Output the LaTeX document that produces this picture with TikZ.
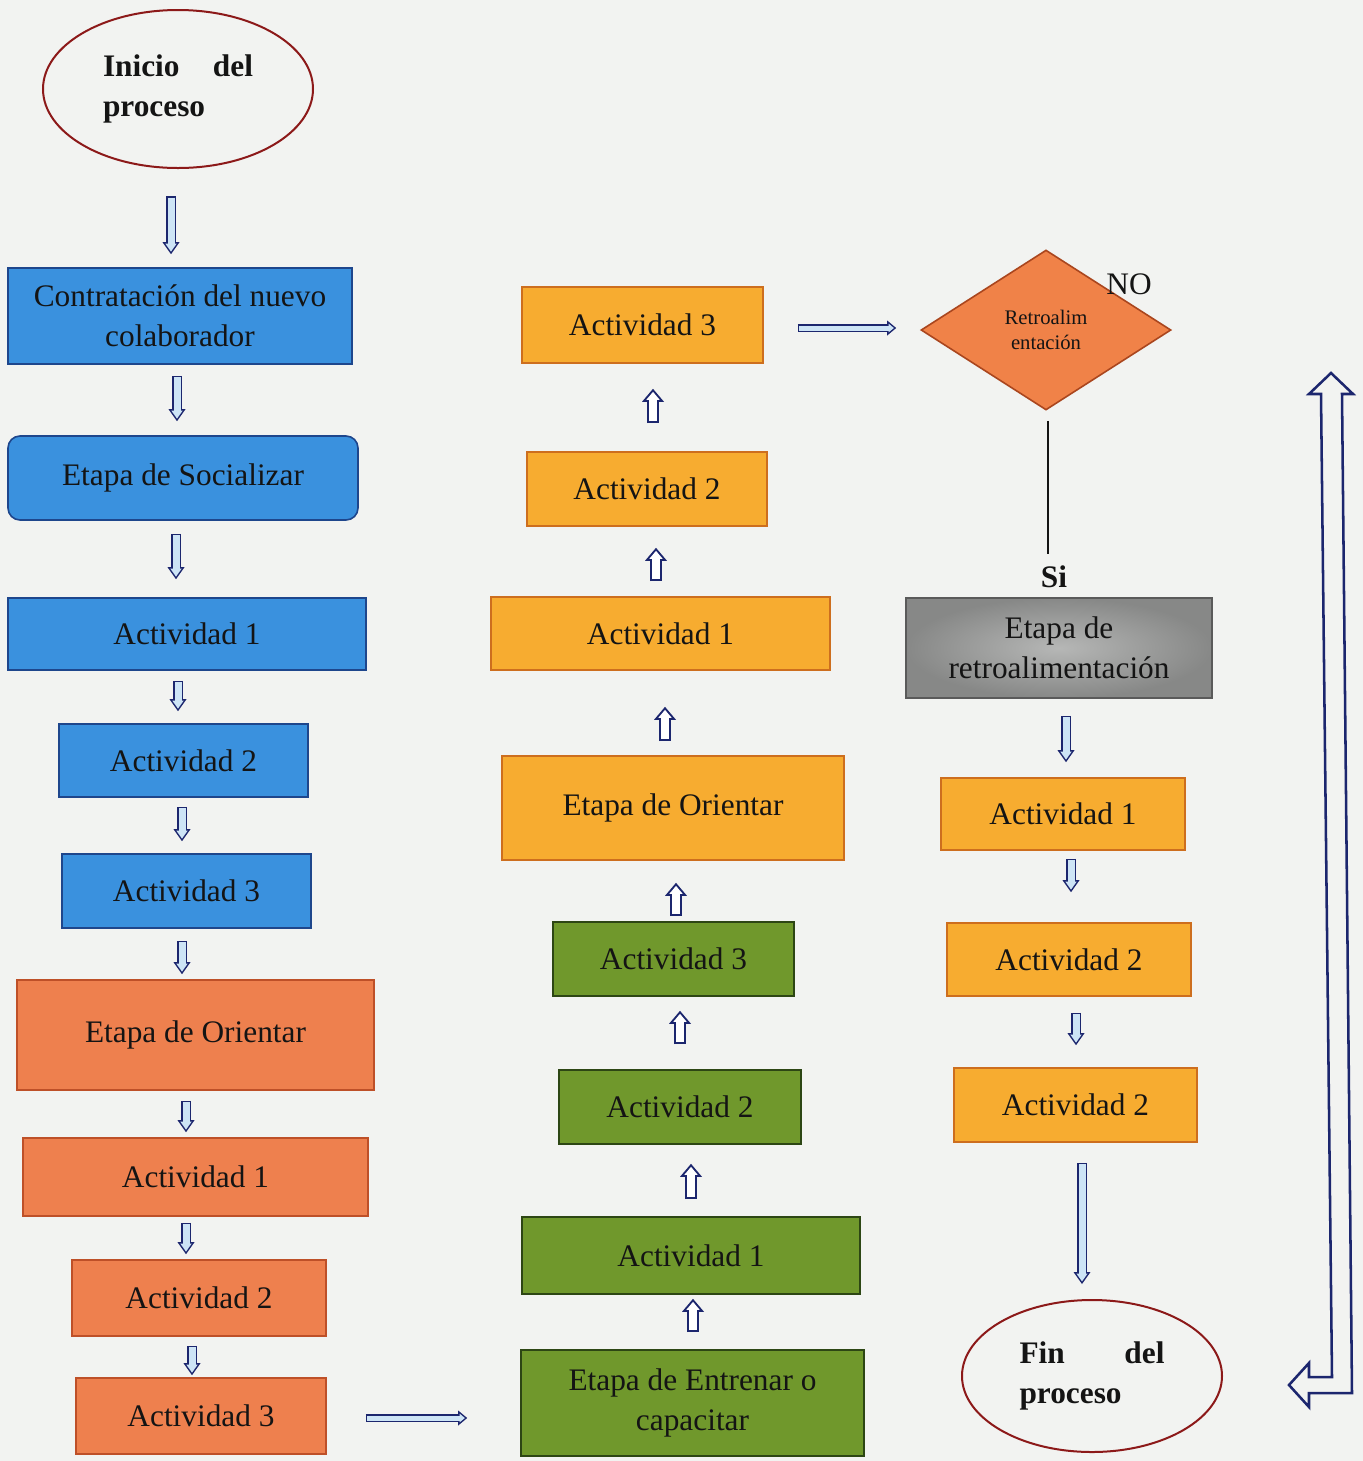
\documentclass[tikz,border=0pt]{standalone}
\usepackage{fontspec}
\setmainfont{Liberation Serif}
\usetikzlibrary{shapes.geometric,arrows.meta,calc}
\definecolor{bg}{RGB}{242,243,241}
\definecolor{navy}{RGB}{28,38,110}
\definecolor{lblue}{RGB}{205,228,246}
\definecolor{bluef}{RGB}{58,145,222}
\definecolor{bluel}{RGB}{30,70,140}
\definecolor{redf}{RGB}{238,128,78}
\definecolor{redl}{RGB}{190,80,40}
\definecolor{yelf}{RGB}{247,172,48}
\definecolor{yell}{RGB}{205,110,30}
\definecolor{grnf}{RGB}{112,152,44}
\definecolor{grnl}{RGB}{45,70,20}
\definecolor{grayin}{RGB}{182,183,182}
\definecolor{grayout}{RGB}{135,136,135}
\definecolor{grayl}{RGB}{90,90,90}
\definecolor{diaf}{RGB}{240,130,72}
\definecolor{dial}{RGB}{170,70,30}
\definecolor{ellc}{RGB}{140,25,25}
\definecolor{txt}{RGB}{20,20,20}
\newcommand\bx[7]{%
  \pgfmathsetmacro\bxw{(#5-#3)*0.75}%
  \pgfmathsetmacro\bxh{(#6-#4)*0.75}%
  \pgfmathsetmacro\bxcx{(#3+#5)/2}%
  \pgfmathsetmacro\bxcy{(#4+#6)/2}%
  \node[#2, minimum width=\bxw pt, minimum height=\bxh pt] (#1) at (\bxcx,\bxcy) {#7};}
\begin{document}
\begin{tikzpicture}[x=0.75pt,y=-0.75pt,
  box/.style={draw, line width=1.2pt, inner sep=0pt, align=center, text=txt,
    font=\fontsize{23.5}{30}\selectfont},
  bluebox/.style={box, fill=bluef, draw=bluel},
  redbox/.style={box, fill=redf, draw=redl},
  yelbox/.style={box, fill=yelf, draw=yell},
  grnbox/.style={box, fill=grnf, draw=grnl},
  graybox/.style={box, inner color=grayin, outer color=grayout, draw=grayl},
  endpt/.style={ellipse, draw=ellc, line width=1.5pt, inner sep=0pt, text=txt,
    font=\bfseries\fontsize{23.5}{30}\selectfont},
  sarr/.style={draw=navy, line width=7.5pt,
    -{Triangle[length=9pt,width=12.75pt,line width=0pt]},
    postaction={draw=lblue, line width=5.25pt, shorten <=1.125pt, shorten >=1.95pt,
      -{Triangle[length=5.93pt,width=8.4pt,line width=0pt]}}},
  marr/.style={draw=navy, line width=9pt,
    -{Triangle[length=9.75pt,width=16.5pt,line width=0pt]},
    postaction={draw=white, line width=6pt, shorten <=1.5pt, shorten >=2.32pt,
      -{Triangle[length=5.93pt,width=10pt,line width=0pt]}}},
  harr/.style={draw=navy, line width=6pt,
    -{Triangle[length=6.75pt,width=11.25pt,line width=0pt]},
    postaction={draw=lblue, line width=3.75pt, shorten <=1.125pt, shorten >=1.76pt,
      -{Triangle[length=3.87pt,width=6.44pt,line width=0pt]}}},
]
\useasboundingbox (0,0) rectangle (1363,1461);
\fill[bg] (0,0) rectangle (1363,1461);

% left column
\node[endpt, minimum width=202.5pt, minimum height=118.5pt] (inicio) at (178,89)
  {\parbox{112.5pt}{Inicio\hfill del\\proceso}};
\bx{contr}{bluebox}{8}{268}{352}{364}{Contratación del nuevo\\colaborador}
\bx{soc}{bluebox, rounded corners=9pt}{8}{436}{358}{520}{Etapa de Socializar}
\bx{la1}{bluebox}{8}{598}{366}{670}{Actividad 1}
\bx{la2}{bluebox}{59}{724}{308}{797}{Actividad 2}
\bx{la3}{bluebox}{62}{854}{311}{928}{Actividad 3}
\bx{lori}{redbox}{17}{980}{374}{1090}{Etapa de Orientar}
\bx{lb1}{redbox}{23}{1138}{368}{1216}{Actividad 1}
\bx{lb2}{redbox}{72}{1260}{326}{1336}{Actividad 2}
\bx{lb3}{redbox}{76}{1378}{326}{1454}{Actividad 3}

% middle column
\bx{ent}{grnbox}{521}{1350}{864}{1456}{Etapa de Entrenar o\\capacitar}
\bx{g1}{grnbox}{522}{1217}{860}{1294}{Actividad 1}
\bx{g2}{grnbox}{559}{1070}{801}{1144}{Actividad 2}
\bx{g3}{grnbox}{553}{922}{794}{996}{Actividad 3}
\bx{mori}{yelbox}{502}{756}{844}{860}{Etapa de Orientar}
\bx{m1}{yelbox}{491}{597}{830}{670}{Actividad 1}
\bx{m2}{yelbox}{527}{452}{767}{526}{Actividad 2}
\bx{m3}{yelbox}{522}{287}{763}{363}{Actividad 3}

% right column
\node[diamond, draw=dial, fill=diaf, line width=1.2pt, minimum width=187.5pt,
  minimum height=120pt, inner sep=0pt, align=center, text=txt,
  font=\fontsize{15.5}{19}\selectfont] (dia) at (1046,330) {Retroalim\\entación};
\node[text=txt, font=\fontsize{23.5}{30}\selectfont] (no) at (1129,284) {NO};
\node[text=txt, font=\bfseries\fontsize{23.5}{30}\selectfont] (si) at (1054,577) {Si};
\bx{retro}{graybox}{906}{598}{1212}{698}{Etapa de\\retroalimentación}
\bx{r1}{yelbox}{941}{778}{1185}{850}{Actividad 1}
\bx{r2}{yelbox}{947}{923}{1191}{996}{Actividad 2}
\bx{r3}{yelbox}{954}{1068}{1197}{1142}{Actividad 2}
\node[endpt, minimum width=195pt, minimum height=114pt] (fin) at (1092,1376)
  {\parbox{108.75pt}{Fin\hfill del\\proceso}};

% left arrows
\draw[sarr] ($(inicio.south)+(-7,27)$) -- ($(contr.north)+(-9,-13)$);
\draw[sarr] ($(contr.south)+(-3,11)$) -- ($(soc.north)+(-6,-14)$);
\draw[sarr] ($(soc.south)+(-7,13)$) -- ($(la1.north)+(-11,-18)$);
\draw[sarr] ($(la1.south)+(-9,10)$) -- ($(la2.north)+(-5.5,-12)$);
\draw[sarr] ($(la2.south)+(-1.5,9)$) -- ($(la3.north)+(-4.5,-12)$);
\draw[sarr] ($(la3.south)+(-4.5,12)$) -- ($(lori.north)+(-13.5,-5)$);
\draw[sarr] ($(lori.south)+(-9.5,10)$) -- ($(lb1.north)+(-9.5,-5)$);
\draw[sarr] ($(lb1.south)+(-9.5,6)$) -- ($(lb2.north)+(-13,-5)$);
\draw[sarr] ($(lb2.south)+(-7,9)$) -- ($(lb3.north)+(-9,-2)$);
\draw[harr] ($(lb3.east)+(39,2)$) -- ($(ent.west)+(-53,15)$);

% middle arrows
\draw[marr] ($(ent.north)+(0.5,-17)$) -- ($(g1.south)+(2,4)$);
\draw[marr] ($(g1.north)+(0,-17)$) -- ($(g2.south)+(11,19)$);
\draw[marr] ($(g2.north)+(0,-25)$) -- ($(g3.south)+(6.5,14)$);
\draw[marr] ($(g3.north)+(2.5,-5)$) -- ($(mori.south)+(3,22)$);
\draw[marr] ($(mori.north)+(-8,-14)$) -- ($(m1.south)+(4.5,36)$);
\draw[marr] ($(m1.north)+(-4.5,-15)$) -- ($(m2.south)+(9,21)$);
\draw[marr] ($(m2.north)+(6,-28)$) -- ($(m3.south)+(10.5,25)$);
\draw[harr] ($(m3.east)+(34,3)$) -- ($(dia.west)+(-24,-2)$);

% right arrows
\draw[line width=1.5pt, txt] ($(dia.south)+(2,10)$) -- ($(si.north)+(-6,-7)$);
\draw[sarr] ($(retro.south)+(7,17)$) -- ($(r1.north)+(3,-15)$);
\draw[sarr] ($(r1.south)+(8,8)$) -- ($(r2.north)+(2,-30)$);
\draw[sarr] ($(r2.south)+(7,16)$) -- ($(r3.north)+(0.5,-22)$);
\draw[sarr] ($(r3.south)+(6.5,20)$) -- ($(fin.north)+(-10,-15)$);

% big return arrow
\draw[navy, line width=1.9pt, line join=miter]
  (1331,373) -- (1353,394) -- (1342,394) -- (1352,1393) -- (1309,1393)
  -- (1309,1407) -- (1289,1385) -- (1309,1363) -- (1309,1377) -- (1332,1377)
  -- (1321,394) -- (1309,394) -- cycle;
\end{tikzpicture}
\end{document}
